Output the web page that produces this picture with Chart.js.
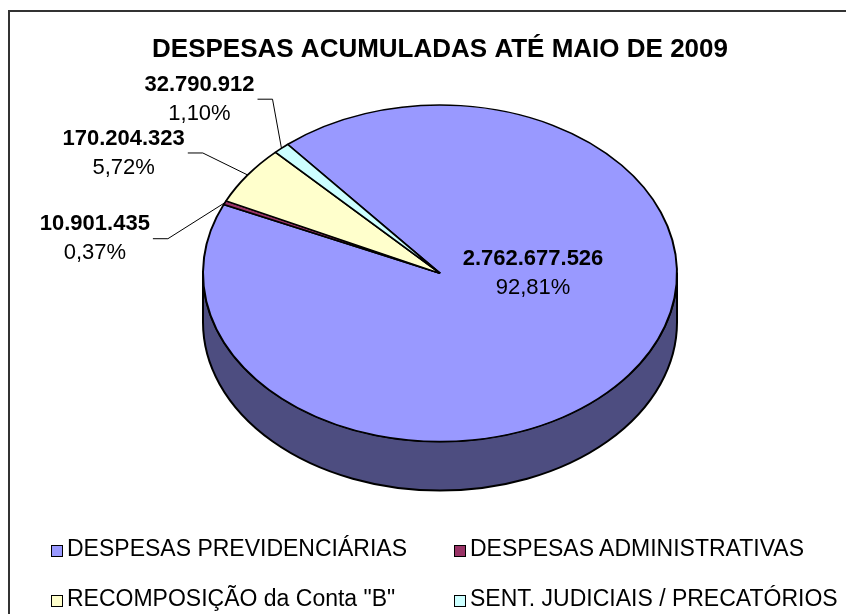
<!DOCTYPE html>
<html>
<head>
<meta charset="utf-8">
<script src="https://cdn.jsdelivr.net/npm/chart.js@4.4.1/dist/chart.umd.min.js"></script>
<style>
  html, body { margin: 0; padding: 0; background: #fff; overflow: hidden; }
  #wrap { position: relative; width: 846px; height: 614px; overflow: hidden; font-family: "Liberation Sans", Arial, sans-serif; }
  #frame { position: absolute; left: 8px; top: 10px; width: 900px; height: 700px; border: 2px solid #333; box-sizing: border-box; }
  #c { position: absolute; left: 0; top: 0; }
  .lg-box { position: absolute; width: 12px; height: 12px; border: 1px solid #000; box-sizing: border-box; }
  .lg-text { position: absolute; font-size: 23px; line-height: 23px; color: #000; white-space: nowrap; }
</style>
</head>
<body>
<div id="wrap">
  <div id="frame"></div>
  <canvas id="c" width="846" height="614"></canvas>
  <div id="legend"></div>
</div>
<script>
// ---- data ----
const chartTitle = 'DESPESAS ACUMULADAS ATÉ MAIO DE 2009';
const categories = ['DESPESAS PREVIDENCIÁRIAS', 'DESPESAS ADMINISTRATIVAS', 'RECOMPOSIÇÃO da Conta "B"', 'SENT. JUDICIAIS / PRECATÓRIOS'];
const values = [2762677526, 10901435, 170204323, 32790912];

// ---- style ----
const topColors = ['#9999FF', '#993366', '#FFFFCC', '#CCFFFF'];
const sideColors = ['#4D4D80', '#4D1A33', '#808066', '#668080'];
const TILT = 0.71;      // vertical squash of the pie (ry / rx)
const DEPTH = 49;       // thickness of the 3D side in px
const FONT = '"Liberation Sans", Arial, sans-serif';
// label placement: inside = offset from pie centre; outside = offset of label block from slice edge point
const labelPlace = [
  { inside: true, dx: 93, dy: 0 },
  { inside: false, dx: -130, dy: 36 },
  { inside: false, dx: -124, dy: -22 },
  { inside: false, dx: -82, dy: -49 }
];
const legendPos = [
  { x: 51, y: 545 }, { x: 454, y: 545 },
  { x: 51, y: 595 }, { x: 454, y: 595 }
];

function fmtInt(v) {
  return String(Math.round(v)).replace(/\B(?=(\d{3})+(?!\d))/g, '.');
}
function fmtPct(p) {
  return (p * 100).toFixed(2).replace('.', ',') + '%';
}

function pieGeom(chart) {
  const a = chart.getDatasetMeta(0).data[0];
  const R = a.outerRadius;
  return { x: a.x, y: a.y, R: R, cyT: chart.chartArea.top + R * TILT };
}
function applyTilt(chart, ctx) {
  const g = pieGeom(chart);
  ctx.translate(g.x, g.cyT);
  ctx.scale(1, TILT);
  ctx.translate(-g.x, -g.y);
}

const pie3d = {
  id: 'pie3d',
  beforeDatasetsDraw(chart) {
    const ctx = chart.ctx;
    const meta = chart.getDatasetMeta(0);
    meta.data.forEach((arc, i) => {
      const s = arc.startAngle, e = arc.endAngle;
      for (let k = -2; k <= 2; k++) {
        const lo = Math.max(s, 2 * Math.PI * k);
        const hi = Math.min(e, Math.PI + 2 * Math.PI * k);
        if (hi > lo) {
          ctx.save();
          applyTilt(chart, ctx);
          ctx.beginPath();
          ctx.arc(arc.x, arc.y, arc.outerRadius, lo, hi);
          ctx.arc(arc.x, arc.y + DEPTH / TILT, arc.outerRadius, hi, lo, true);
          ctx.closePath();
          ctx.restore();
          ctx.save();
          ctx.fillStyle = sideColors[i];
          ctx.fill();
          ctx.lineWidth = 2;
          ctx.lineJoin = 'round';
          ctx.strokeStyle = '#000';
          ctx.stroke();
          ctx.restore();
        }
      }
    });
    ctx.save();
    applyTilt(chart, ctx);
  },
  afterDatasetsDraw(chart) {
    chart.ctx.restore();
  },
  afterDraw(chart) {
    const ctx = chart.ctx;
    const meta = chart.getDatasetMeta(0);
    const g = pieGeom(chart);
    const total = values.reduce((a, b) => a + b, 0);
    ctx.save();
    ctx.fillStyle = '#000';
    ctx.strokeStyle = '#000';
    ctx.textAlign = 'center';
    ctx.textBaseline = 'middle';
    meta.data.forEach((arc, i) => {
      const p = labelPlace[i];
      const line1 = fmtInt(values[i]);
      const line2 = fmtPct(values[i] / total);
      const mid = (arc.startAngle + arc.endAngle) / 2;
      const ex = g.x + Math.cos(mid) * g.R;
      const ey = g.cyT + Math.sin(mid) * g.R * TILT;
      let bx, by;
      if (p.inside) { bx = g.x + p.dx; by = g.cyT + p.dy; }
      else { bx = ex + p.dx; by = ey + p.dy; }
      ctx.font = 'bold 22px ' + FONT;
      const w1 = ctx.measureText(line1).width;
      ctx.fillText(line1, bx, by - 14.5);
      ctx.font = '22px ' + FONT;
      const w2 = ctx.measureText(line2).width;
      ctx.fillText(line2, bx, by + 14.5);
      if (!p.inside) {
        const hw = Math.max(w1, w2) / 2;
        const x0 = bx + hw + 3;
        ctx.beginPath();
        ctx.lineWidth = 1;
        ctx.moveTo(x0, by);
        ctx.lineTo(x0 + 15, by);
        ctx.lineTo(ex, ey);
        ctx.stroke();
      }
    });
    ctx.restore();
  }
};

const chart = new Chart(document.getElementById('c'), {
  type: 'pie',
  data: {
    labels: categories,
    datasets: [{
      data: values,
      backgroundColor: topColors,
      borderColor: '#000',
      borderWidth: 2,
      clip: false
    }]
  },
  options: {
    responsive: false,
    animation: false,
    devicePixelRatio: 1,
    rotation: -40,
    layout: { padding: { left: 34, right: 0, top: 0, bottom: 33 } },
    plugins: {
      legend: { display: false },
      tooltip: { enabled: false },
      title: {
        display: true,
        text: chartTitle,
        color: '#000',
        font: { family: FONT, size: 26, weight: 'bold', lineHeight: 1.2 },
        padding: { top: 34, bottom: 39.8 }
      }
    },
    events: []
  },
  plugins: [pie3d]
});

// legend built from the same categories / colours
const lg = document.getElementById('legend');
categories.forEach((name, i) => {
  const pos = legendPos[i];
  const b = document.createElement('div');
  b.className = 'lg-box';
  b.style.left = pos.x + 'px';
  b.style.top = pos.y + 'px';
  b.style.background = topColors[i];
  lg.appendChild(b);
  const t = document.createElement('div');
  t.className = 'lg-text';
  t.style.left = (pos.x + 16) + 'px';
  t.style.top = (pos.y - 8) + 'px';
  t.textContent = name;
  lg.appendChild(t);
});
</script>
</body>
</html>
